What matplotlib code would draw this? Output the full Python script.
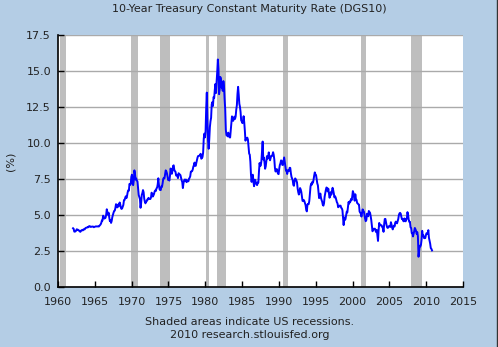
import numpy as np
import pandas as pd
import matplotlib
matplotlib.use("Agg")
import matplotlib.pyplot as plt
from matplotlib.lines import Line2D

# Monthly 10-year treasury yield (%), one row per year, Jan..Dec
years = list(range(1962, 2011))
rates = [
    [4.08, 4.04, 3.85, 3.84, 3.87, 3.91, 4.01, 3.98, 3.98, 3.93, 3.92, 3.86],  # 1962
    [3.83, 3.92, 3.93, 3.97, 3.93, 3.99, 4.02, 4.00, 4.08, 4.11, 4.12, 4.13],
    [4.17, 4.15, 4.22, 4.23, 4.20, 4.17, 4.19, 4.19, 4.20, 4.19, 4.15, 4.18],
    [4.19, 4.21, 4.21, 4.20, 4.21, 4.21, 4.20, 4.25, 4.29, 4.35, 4.45, 4.62],
    [4.61, 4.95, 4.87, 4.75, 4.78, 4.81, 5.02, 5.40, 5.18, 5.01, 5.16, 4.84],  # 1966
    [4.58, 4.63, 4.45, 4.59, 4.85, 5.02, 5.16, 5.28, 5.30, 5.48, 5.75, 5.70],
    [5.53, 5.56, 5.74, 5.64, 5.87, 5.72, 5.50, 5.42, 5.46, 5.58, 5.70, 6.03],
    [6.04, 6.19, 6.30, 6.17, 6.32, 6.57, 6.72, 6.69, 7.16, 7.10, 7.14, 7.65],
    [7.80, 7.24, 7.07, 7.39, 8.10, 7.84, 7.46, 7.53, 7.39, 7.33, 6.84, 6.39],  # 1970
    [6.24, 6.11, 5.50, 5.83, 6.39, 6.52, 6.73, 6.58, 6.14, 5.93, 5.81, 5.93],
    [5.95, 6.08, 6.07, 6.19, 6.13, 6.11, 6.11, 6.21, 6.55, 6.48, 6.28, 6.36],
    [6.46, 6.64, 6.71, 6.67, 6.85, 6.90, 7.13, 7.55, 7.09, 6.79, 6.73, 6.74],
    [6.99, 6.96, 7.21, 7.51, 7.58, 7.54, 7.81, 8.10, 8.04, 7.90, 7.68, 7.43],
    [7.50, 7.39, 7.73, 8.23, 8.06, 7.86, 8.06, 8.40, 8.45, 8.14, 8.05, 8.00],  # 1975
    [7.74, 7.79, 7.73, 7.56, 7.90, 7.86, 7.83, 7.77, 7.59, 7.41, 7.29, 6.87],
    [7.21, 7.39, 7.46, 7.37, 7.46, 7.28, 7.33, 7.40, 7.34, 7.52, 7.58, 7.69],
    [8.01, 8.03, 8.04, 8.15, 8.35, 8.46, 8.64, 8.41, 8.42, 8.64, 8.81, 9.01],
    [9.10, 9.10, 9.12, 9.18, 9.25, 8.91, 8.95, 9.03, 9.33, 10.30, 10.65, 10.39],
    [10.80, 12.41, 13.50, 11.47, 10.18, 9.60, 10.25, 11.10, 11.51, 11.75, 12.68, 12.84],  # 1980
    [12.57, 13.19, 13.12, 13.68, 14.10, 13.47, 14.28, 14.94, 15.80, 15.15, 13.39, 13.72],
    [14.59, 14.43, 13.86, 13.87, 13.62, 14.30, 13.95, 13.06, 12.34, 10.91, 10.55, 10.54],
    [10.46, 10.72, 10.51, 10.40, 10.38, 10.85, 11.38, 11.85, 11.65, 11.54, 11.69, 11.83],
    [11.67, 11.84, 12.32, 12.63, 13.41, 13.90, 13.36, 12.72, 12.52, 12.16, 11.57, 11.50],
    [11.38, 11.51, 11.86, 11.43, 10.85, 10.16, 10.31, 10.33, 10.37, 10.24, 9.78, 9.26],  # 1985
    [9.19, 8.70, 7.78, 7.30, 7.71, 7.80, 7.30, 7.00, 7.45, 7.43, 7.25, 7.11],
    [7.08, 7.25, 7.25, 8.02, 8.61, 8.40, 8.45, 8.76, 9.42, 10.10, 8.86, 8.99],
    [8.67, 8.21, 8.37, 8.72, 9.09, 8.92, 9.06, 9.35, 8.98, 8.80, 8.96, 9.11],
    [9.09, 9.17, 9.36, 9.18, 8.86, 8.28, 8.02, 8.11, 8.19, 8.01, 7.87, 7.84],
    [8.21, 8.47, 8.59, 8.79, 8.76, 8.48, 8.47, 8.75, 9.00, 8.72, 8.39, 8.08],  # 1990
    [8.09, 7.85, 8.11, 8.04, 8.07, 8.28, 8.27, 7.90, 7.65, 7.53, 7.42, 7.09],
    [7.03, 7.34, 7.54, 7.48, 7.39, 7.26, 6.84, 6.59, 6.42, 6.59, 6.87, 6.77],
    [6.60, 6.26, 5.98, 5.97, 6.04, 5.96, 5.81, 5.68, 5.36, 5.25, 5.72, 5.77],
    [5.75, 5.97, 6.48, 6.97, 7.18, 7.10, 7.30, 7.24, 7.46, 7.74, 7.96, 7.81],
    [7.78, 7.47, 7.20, 7.06, 6.63, 6.17, 6.28, 6.49, 6.20, 6.04, 5.93, 5.71],  # 1995
    [5.65, 5.81, 6.27, 6.51, 6.74, 6.91, 6.87, 6.64, 6.83, 6.53, 6.20, 6.30],
    [6.58, 6.42, 6.69, 6.89, 6.71, 6.49, 6.22, 6.30, 6.21, 6.03, 5.88, 5.81],
    [5.54, 5.57, 5.65, 5.64, 5.65, 5.50, 5.46, 5.34, 4.81, 4.30, 4.83, 4.65],
    [4.72, 5.00, 5.23, 5.18, 5.54, 5.90, 5.79, 5.94, 5.92, 6.11, 6.03, 6.28],
    [6.66, 6.52, 6.26, 5.99, 6.44, 6.10, 6.05, 5.83, 5.80, 5.74, 5.72, 5.24],  # 2000
    [5.16, 5.10, 4.89, 5.14, 5.39, 5.28, 5.24, 4.97, 4.73, 4.57, 4.65, 5.09],
    [5.04, 4.91, 5.28, 5.21, 5.16, 4.93, 4.65, 4.26, 3.87, 3.94, 4.05, 4.03],
    [4.05, 3.90, 3.81, 3.96, 3.57, 3.20, 3.98, 4.45, 4.27, 4.29, 4.30, 4.27],
    [4.15, 4.08, 3.83, 4.35, 4.72, 4.73, 4.50, 4.28, 4.13, 4.10, 4.19, 4.23],
    [4.22, 4.17, 4.50, 4.34, 4.14, 4.00, 4.18, 4.26, 4.20, 4.46, 4.54, 4.47],  # 2005
    [4.42, 4.57, 4.72, 4.99, 5.11, 5.15, 5.09, 4.88, 4.72, 4.73, 4.60, 4.56],
    [4.76, 4.72, 4.56, 4.69, 4.75, 5.20, 5.00, 4.67, 4.52, 4.53, 4.15, 4.10],
    [3.74, 3.74, 3.51, 3.68, 3.88, 4.10, 4.01, 3.89, 3.69, 3.81, 3.53, 2.10],
    [2.52, 2.87, 2.82, 2.93, 3.29, 3.90, 3.56, 3.59, 3.40, 3.39, 3.40, 3.59],
    [3.73, 3.69, 3.73, 3.95, 3.42, 3.20, 3.01, 2.70, 2.65, 2.54, None, None],  # 2010
]

# US recessions (start, end) in decimal years
recessions = [
    (1960.29, 1961.13), (1969.92, 1970.88), (1973.88, 1975.21),
    (1980.04, 1980.54), (1981.54, 1982.88), (1990.54, 1991.21),
    (2001.21, 2001.88), (2007.96, 2009.46),
]

bg = "#b4cde5"

# flatten into a monthly series
t, y = [], []
for yr, row in zip(years, rates):
    for m, v in enumerate(row):
        if v is not None:
            t.append(yr + (m + 0.5) / 12)
            y.append(v)
series = pd.Series(y, index=t)

fig = plt.figure(figsize=(4.98, 3.47), dpi=100, facecolor=bg)
ax = fig.add_axes([58 / 498, 1 - 287 / 347, 405 / 498, 252 / 347])

ax.set_xlim(1960, 2015)
ax.set_ylim(0, 17.5)
ax.set_yticks(np.arange(0, 17.6, 2.5))
ax.set_yticklabels([f"{v:.1f}" for v in np.arange(0, 17.6, 2.5)])
ax.set_xticks(range(1960, 2016, 5))

ax.grid(axis="y", color="#aaaaaa", linewidth=1.0, zorder=0)
for a, b in recessions:
    ax.axvspan(a, b, color="#bebebe", linewidth=0, zorder=1)
ax.plot(series.index, series.values, color="#0000ff", linewidth=1.4, zorder=3)

for s in ["top", "right"]:
    ax.spines[s].set_visible(False)
for s in ["left", "bottom"]:
    ax.spines[s].set_linewidth(1.2)
    ax.spines[s].set_zorder(4)

ax.tick_params(direction="in", length=4, width=1, labelsize=8, color="black",
               labelcolor="#222222")
ax.tick_params(axis="x", pad=7)
ax.tick_params(axis="y", pad=5)
ax.set_ylabel("(%)", fontsize=8, color="#222222", labelpad=8)

fig.text(0.5, 1 - 9 / 347, "10-Year Treasury Constant Maturity Rate (DGS10)",
         ha="center", va="center", fontsize=8, color="#222222")
fig.text(250 / 498, 1 - 322 / 347, "Shaded areas indicate US recessions.",
         ha="center", va="center", fontsize=8, color="#222222")
fig.text(250 / 498, 1 - 335 / 347, "2010 research.stlouisfed.org",
         ha="center", va="center", fontsize=8, color="#222222")

# dark edge on the right side of the frame
fig.add_artist(Line2D([0.998, 0.998], [0, 1], transform=fig.transFigure,
                      color="#333333", linewidth=1))

fig.savefig("out.png", dpi=100, facecolor=bg)
